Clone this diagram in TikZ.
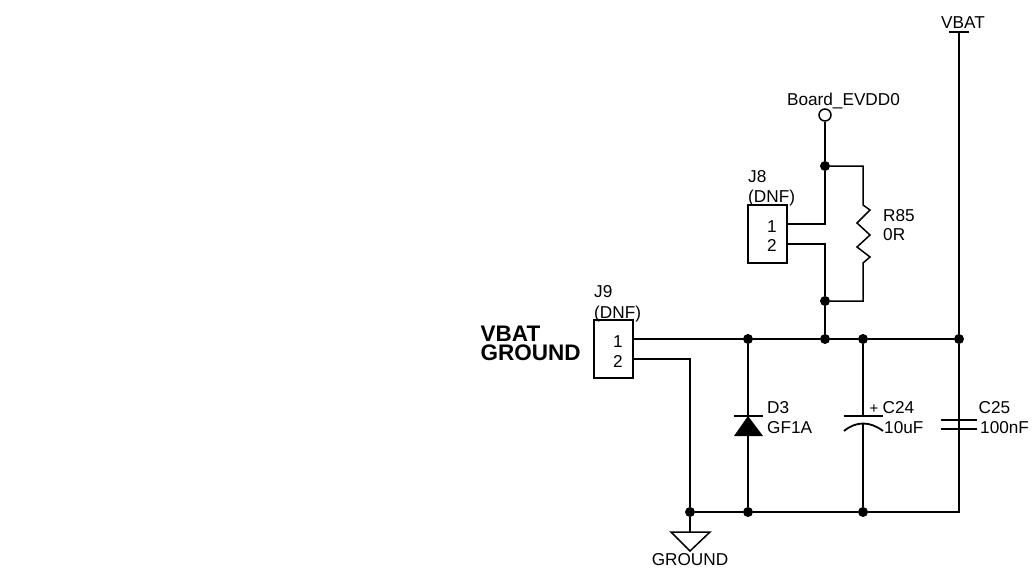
\documentclass[tikz,border=0pt]{standalone}
\usepackage{fontspec}
\setmainfont{Liberation Sans}
\usetikzlibrary{positioning}
\tikzset{
  wire/.style={black,line width=1.5pt},
  plate/.style={black,line width=1.8pt},
  dot/.style={circle,fill=black,draw=none,minimum size=10pt,inner sep=0pt},
  lab/.style={anchor=west,inner sep=0pt,font=\fontsize{17.2}{18}\selectfont},
  clab/.style={anchor=center,inner sep=0pt,font=\fontsize{17.2}{18}\selectfont},
  biglab/.style={anchor=west,inner sep=0pt,font=\fontsize{22.5}{23}\selectfont\bfseries},
  hdr/.style={draw=black,line width=1.8pt,fill=white,minimum width=39pt,minimum height=58pt,inner sep=0pt}
}
\begin{document}
\begin{tikzpicture}[x=1pt,y=-1pt]
\useasboundingbox (0,0) rectangle (1033,573);
% headers
\node [hdr] (J8) at (767.5,234) {};
\node [hdr] (J9) at (613.5,349) {};
\node [clab] (J8one) at (772,226.5) {1};
\node [clab] (J8two) at (772,245.5) {2};
\node [clab] (J9one) at (618,341.5) {1};
\node [clab] (J9two) at (618,361.5) {2};
% junctions
\node [dot] (top) at (825,166) {};
\node [dot] (mid) at (825,301) {};
\node [dot] (railD) at (748,339) {};
\node [dot] (railJ) at (825,339) {};
\node [dot] (railC) at (863,339) {};
\node [dot] (railV) at (959,339) {};
\node [dot] (gndJ) at (690,512) {};
\node [dot] (gndD) at (748,512) {};
\node [dot] (gndC) at (863,512) {};
\coordinate (gndV) at (959,512);
% supplies
\node [circle,draw=black,line width=1.5pt,fill=white,minimum size=12pt,inner sep=0pt] (evdd) at (825,115) {};
\coordinate (vbatT) at (959,32);
\draw [wire] (949,32) -- (969,32);
\draw [wire] (vbatT) -- (railV);
\draw [wire] (evdd) -- (top);
% J8 and R85
\coordinate (J8a) at (787,224);
\coordinate (J8b) at (787,244);
\draw [wire] (J8a) -- (825,224) -- (top);
\draw [wire] (J8b) -- (825,244) -- (mid);
\draw [wire] (mid) -- (railJ);
\draw [wire] (top) -- (863,166) -- (863,205) -- (870,210) -- (857,223) -- (870,235) -- (857,247) -- (870,257) -- (863,263) -- (863,301) -- (mid);
% J9 and rails
\coordinate (J9a) at (633,339);
\coordinate (J9b) at (633,359);
\draw [wire] (J9a) -- (railD) -- (railJ) -- (railC) -- (railV);
\draw [wire] (J9b) -- (690,359) -- (gndJ);
\draw [wire] (gndJ) -- (gndD) -- (gndC) -- (gndV) -- (railV);
% ground
\coordinate (gndT) at (690,532);
\draw [wire] (gndJ) -- (gndT);
\draw [wire] (671,532) -- (710,532) -- (690,551) -- cycle;
% D3
\coordinate (dK) at (748,416);
\coordinate (dA) at (748,436);
\draw [wire] (railD) -- (dK);
\draw [wire] (dA) -- (gndD);
\draw [plate] (734,416) -- (763,416);
\fill [black] (dK) -- (763,436) -- (734,436) -- cycle;
% C24
\coordinate (c24T) at (863,416);
\coordinate (c24B) at (863,424);
\draw [wire] (railC) -- (c24T);
\draw [wire] (c24B) -- (gndC);
\draw [plate] (843.5,416) -- (883,416);
\draw [plate] (844,431) .. controls (856,421) and (870,421) .. (883,431);
% C25
\coordinate (c25T) at (959,420);
\coordinate (c25B) at (959,429);
\draw [wire] (railV) -- (c25T);
\draw [wire] (c25B) -- (gndV);
\draw [plate] (941,420) -- (977,420);
\draw [plate] (941,429) -- (977,429);
% labels
\node [clab] (vbatL) at (963,23) {VBAT};
\node [clab] (evddL) at (843.5,101) {Board\_EVDD0};
\node [lab] (J8L) at (748,177) {J8};
\node [lab] (J8dnf) at (748,198) {(DNF)};
\node [lab] (J9L) at (594,292) {J9};
\node [lab] (J9dnf) at (594,313.7) {(DNF)};
\node [lab] (R85L) at (883,215.5) {R85};
\node [lab] (R85v) at (883,234.5) {0R};
\node [lab] (D3L) at (767,407.5) {D3};
\node [lab] (D3v) at (767,427.5) {GF1A};
\node [lab] (C24L) at (882.5,407.5) {C24};
\node [lab] (C24v) at (884,427.5) {10uF};
\node [clab,font=\fontsize{15}{15}\selectfont] (C24p) at (874,409) {+};
\node [lab] (C25L) at (978.5,407.5) {C25};
\node [lab] (C25v) at (980,427.5) {100nF};
\node [clab] (gndL) at (690,560) {GROUND};
\node [biglab] (bigV) at (480.5,334) {VBAT};
\node [biglab] (bigG) at (480.5,353) {GROUND};
\end{tikzpicture}
\end{document}
